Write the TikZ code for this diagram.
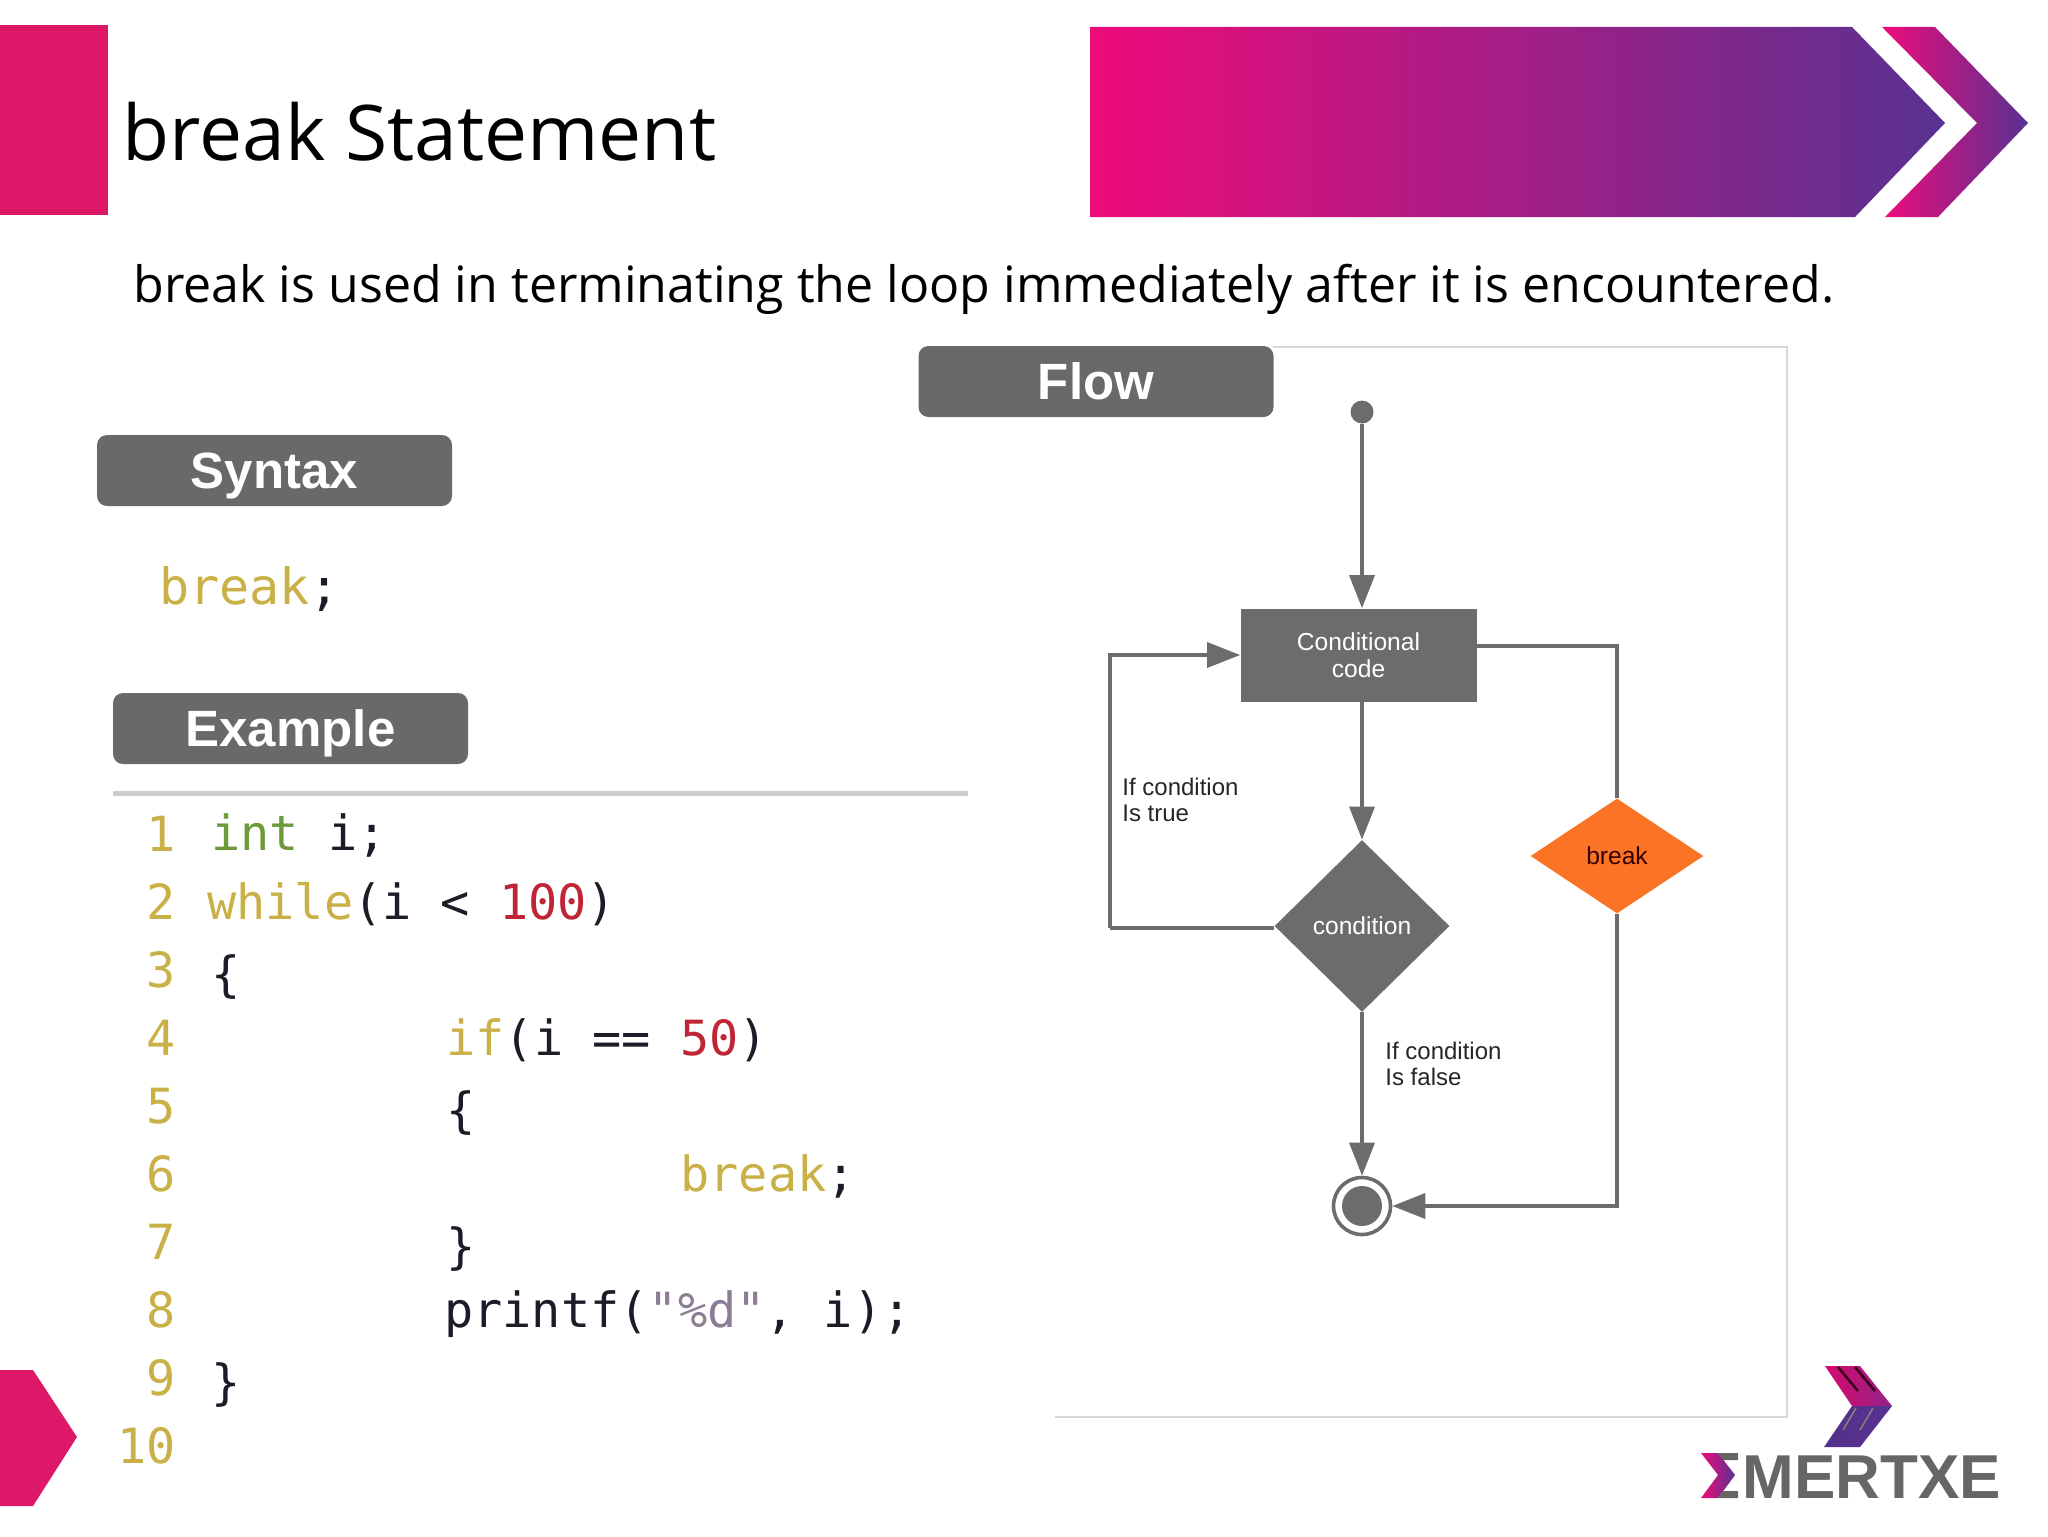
\documentclass[tikz,border=0pt]{standalone}
\usepackage{fontspec}
\setmainfont{Liberation Sans}
\newfontfamily\headf{Open Sans}
\newfontfamily\codef{DejaVu Sans Mono}
\usetikzlibrary{arrows.meta,shapes.geometric,calc}
\definecolor{pinkbar}{HTML}{DD1868}
\definecolor{gL}{HTML}{EE0B7A}
\definecolor{gR}{HTML}{583291}
\definecolor{pill}{HTML}{69696B}
\definecolor{flowc}{HTML}{6C6C6E}
\definecolor{panel}{HTML}{D8D8DA}
\definecolor{orangeb}{HTML}{FB7426}
\definecolor{yel}{HTML}{C9B047}
\definecolor{grn}{HTML}{6E9A3A}
\definecolor{redc}{HTML}{C02536}
\definecolor{ink}{HTML}{1C1C28}
\definecolor{pct}{HTML}{8C7C94}
\definecolor{logoG}{HTML}{666664}
\tikzset{
  pillbox/.style={fill=pill,rounded corners=5pt,minimum width=177.5pt,minimum height=35.5pt,inner sep=0pt,text=white,text height=18pt,text depth=0pt,font=\fontsize{25.5}{30}\selectfont\bfseries},
  ln/.style={anchor=base east,inner sep=0pt,text=yel,font=\fontsize{24.25}{28}\selectfont\codef},
  code/.style={anchor=base west,inner sep=0pt,text=ink,font=\fontsize{24.25}{28}\selectfont\codef},
  flowline/.style={draw=flowc,line width=1.8pt},
  flowarrow/.style={flowline,-{Triangle[length=16.5pt,width=12.5pt,fill=flowc]}},
  lab/.style={anchor=north west,inner sep=0pt,align=left,text=black!85,font=\fontsize{12}{13}\selectfont},
}
\begin{document}
\begin{tikzpicture}[x=0.5pt,y=-0.5pt]
\useasboundingbox (0,0) rectangle (2048,1536);
\fill[white] (0,0) rectangle (2048,1536);
% header
\fill[pinkbar] (0,25) rectangle (108,215);
\node[anchor=base west,inner sep=0pt,font=\fontsize{38.4}{46}\selectfont\headf] (title) at (122,160) {break Statement};
\shade[left color=gL,right color=gR] (1090,27) -- (1852,27) -- (1945,123) -- (1855,217) -- (1090,217) -- cycle;
\shade[left color=gL,right color=gR] (1882,27) -- (1935,27) -- (2028,123) -- (1938,217) -- (1885,217) -- (1977,123) -- cycle;
\node[anchor=base west,inner sep=0pt,font=\fontsize{25.05}{30}\selectfont\headf] (sub) at (133,302) {break is used in terminating the loop immediately after it is encountered.};
\fill[pinkbar] (0,1370) -- (33,1370) -- (77,1437) -- (33,1506) -- (0,1506) -- cycle;
% panel
\draw[panel,line width=1pt] (1273,347) -- (1787,347) -- (1787,1417) -- (1055,1417);
% pills
\node[pillbox] (flow) at (1096,381.5) {Flow};
\node[pillbox] (syntax) at (274.5,470.5) {Syntax};
\node[pillbox] (example) at (290.5,728.5) {Example};
\draw[line width=2.5pt,draw=black!20] (113,793) -- (968,793);
% syntax
\node[code,text=yel,font=\fontsize{25}{28}\selectfont\codef] (syn) at (159,604) {break\textcolor{ink}{;}};
% code
\foreach \n/\y in {1/851,2/919,3/987,4/1055,5/1123,6/1191,7/1259,8/1327,9/1395,10/1463}{
  \node[ln] (n\n) at (176,\y) {\n};
}
\node[code] (c1) at (211,850) {\textcolor{grn}{int} i;};
\node[code] (c2) at (207,919) {\textcolor{yel}{while}(i < \textcolor{redc}{100})};
\node[code] (c3) at (211,991) {\{};
\node[code] (c4) at (446,1055) {\textcolor{yel}{if}(i == \textcolor{redc}{50})};
\node[code] (c5) at (446,1127) {\{};
\node[code] (c6) at (680,1191) {\textcolor{yel}{break};};
\node[code] (c7) at (446,1263) {\}};
\node[code] (c8) at (444,1327) {printf(\textcolor{pct}{"\%d"}, i);};
\node[code] (c9) at (211,1399) {\}};
% flow chart
\node[circle,fill=flowc,minimum size=11.5pt,inner sep=0pt] (start) at (1362,412) {};
\node[fill=flowc,minimum width=118pt,minimum height=46.5pt,inner sep=0pt,align=center,text=white,font=\fontsize{12.3}{13.5}\selectfont] (ccode) at (1358.5,655) {Conditional\\code};
\node[diamond,fill=flowc,minimum width=87.5pt,minimum height=86pt,inner sep=0pt,text=white,font=\fontsize{12.3}{15}\selectfont] (cond) at (1362,926) {condition};
\node[diamond,fill=orangeb,minimum width=86.5pt,minimum height=57.5pt,inner sep=0pt,text=black!80!red,font=\fontsize{12.3}{15}\selectfont] (brk) at (1617,856) {break};
\node[circle,draw=flowc,line width=1.8pt,fill=white,minimum size=28.5pt,inner sep=0pt] (endc) at (1362,1206) {};
\node[circle,fill=flowc,minimum size=20pt,inner sep=0pt] (endi) at (1362,1206) {};
\coordinate (loopc) at (1110,928);
\draw[flowarrow] (start) -- (start |- ccode.north);
\draw[flowarrow] (start |- ccode.south) -- (cond.north);
\draw[flowarrow] (cond.south) -- (endc.north);
\draw[flowline] (cond.west |- loopc) -- (loopc);
\draw[flowarrow] (loopc) |- (ccode.west);
\draw[flowline] ($(ccode.east)+(0,4.5pt)$) -| (brk.north);
\draw[flowarrow] (brk.south) |- (endc.east);
\node[lab] (ltrue) at (1122,778) {If condition\\Is true};
\node[lab] (lfalse) at (1385,1042) {If condition\\Is false};
% logo
\shade[left color=gL!90!black,right color=gR!60!gL] (1825,1366) -- (1860,1366) -- (1892,1406) -- (1852,1406) -- cycle;
\shade[left color=gR!95!black,right color=gR] (1852,1406) -- (1892,1406) -- (1860,1447) -- (1824,1447) -- cycle;
\foreach \dx in {0,17}{
  \draw[black!75!gL,line width=1.3pt] (1838+\dx,1367) -- (1858+\dx,1391);
  \draw[gray,line width=.8pt] (1856+\dx,1408) -- (1843+\dx,1430);
}
\shade[left color=gL,right color=gR] (1701,1453) -- (1718,1453) -- (1735,1475) -- (1718,1498) -- (1701,1498) -- (1718,1475) -- cycle;
\fill[logoG] (1718,1453) -- (1738,1453) -- (1738,1460) -- (1723,1460) -- cycle;
\fill[logoG] (1723,1491) -- (1738,1491) -- (1738,1498) -- (1718,1498) -- cycle;
\node[anchor=base west,inner sep=0pt,text=logoG,font=\fontsize{31}{36}\selectfont\bfseries] (logo) at (1742,1498) {MERTXE};
\end{tikzpicture}
\end{document}
